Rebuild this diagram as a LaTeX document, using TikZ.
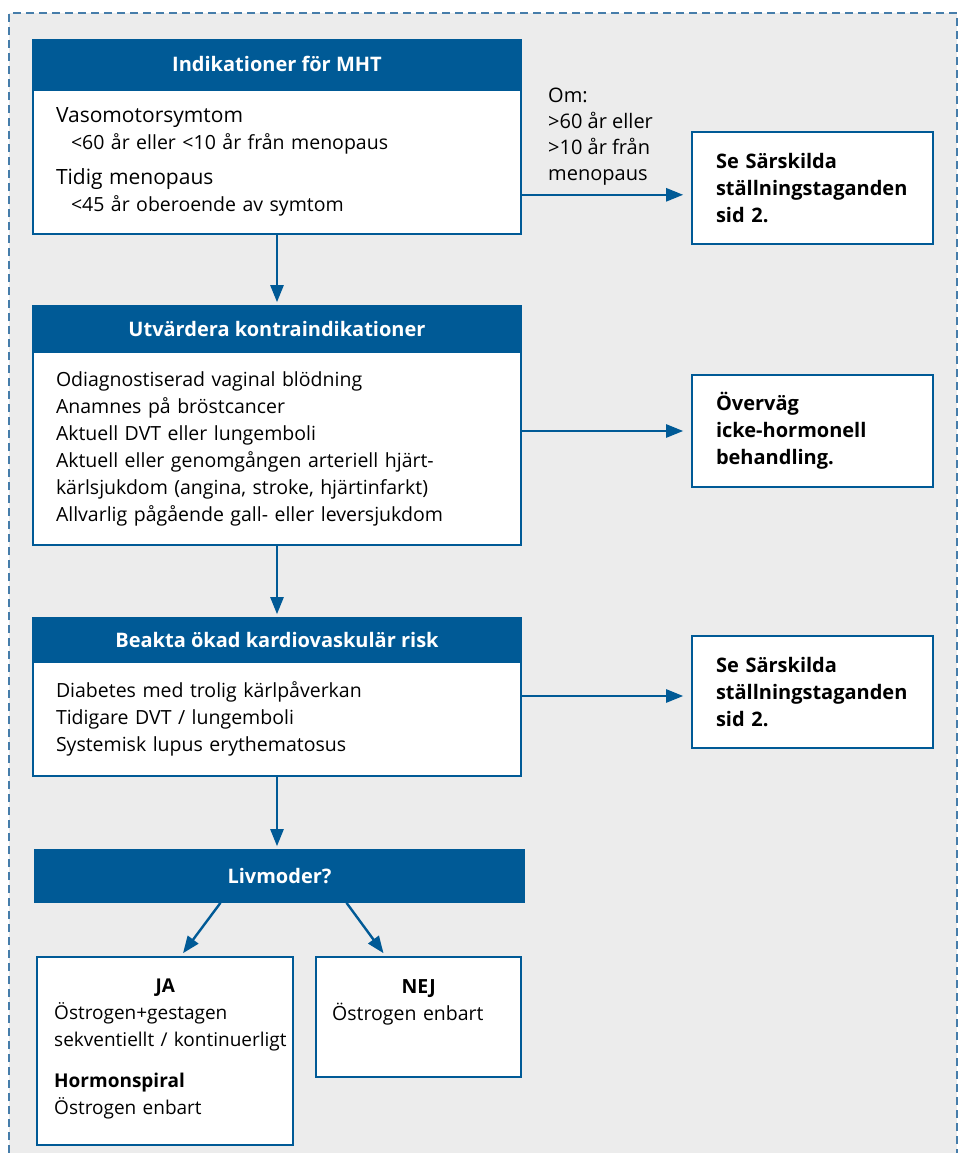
\documentclass[tikz,border=0pt]{standalone}
\usepackage{fontspec}
\setmainfont{Open Sans}
\usetikzlibrary{arrows.meta,calc}
\definecolor{mblue}{RGB}{0,90,150}
\definecolor{mdash}{RGB}{70,125,170}
\definecolor{mbg}{RGB}{236,236,236}
\begin{document}
\begin{tikzpicture}[x=1pt,y=-1pt,
  head/.style={fill=mblue, draw=mblue, line width=1.6pt, text=white,
    font=\fontsize{20}{24}\selectfont\bfseries, minimum width=488pt, inner sep=0pt},
  body/.style={fill=white, draw=mblue, line width=1.6pt, align=left, text width=442pt,
    inner xsep=23pt, inner ysep=0pt, minimum width=488pt, font=\fontsize{19.5}{27}\selectfont},
  side/.style={fill=white, draw=mblue, line width=1.6pt, align=left, text width=193pt,
    inner xsep=24pt, inner ysep=0pt, minimum width=241pt, minimum height=112pt,
    font=\fontsize{20}{27}\selectfont\bfseries},
  plain/.style={fill=white, draw=mblue, line width=1.6pt, inner sep=0pt},
  txt/.style={align=left, inner sep=0pt, font=\fontsize{19.5}{27}\selectfont},
  arr/.style={draw=mblue, line width=2.4pt, -{Triangle[length=17pt,width=13pt]}}
]
\useasboundingbox (0,0) rectangle (963,1153);
\fill[white] (0,0) rectangle (963,1153);
\fill[mbg] (9,13) rectangle (957,1153);
\draw[mdash, line width=1.3pt, dash pattern=on 8pt off 5pt] (9,1153) -- (9,13) -- (957,13) -- (957,1153);

% Box 1
\node[body, minimum height=144pt] (b1) at (277,162) {{\fontsize{21}{27}\selectfont Vasomotorsymtom}\\
\hspace*{15pt}<60 år eller <10 år från menopaus\\[8pt]
{\fontsize{21}{27}\selectfont Tidig menopaus}\\
\hspace*{15pt}<45 år oberoende av symtom};
\node[head, minimum height=48pt] (h1) at (277,64) {Indikationer för MHT};
\node[side] (r1) at (812.5,188) {Se Särskilda\\ställningstaganden\\sid 2.};
\node[txt, anchor=north west, font=\fontsize{20}{26}\selectfont] (om) at (548,88) {Om:\\>60 år eller\\>10 år från\\menopaus};

% Box 2
\node[body, minimum height=193pt] (b2) at (277,448.5) {Odiagnostiserad vaginal blödning\\
Anamnes på bröstcancer\\
Aktuell DVT eller lungemboli\\
Aktuell eller genomgången arteriell hjärt-\\
kärlsjukdom (angina, stroke, hjärtinfarkt)\\
Allvarlig pågående gall- eller leversjukdom};
\node[head, minimum height=46pt] (h2) at (277,329) {Utvärdera kontraindikationer};
\node[side] (r2) at (812.5,431) {Överväg\\icke-hormonell\\behandling.};

% Box 3
\node[body, minimum height=114pt] (b3) at (277,719) {Diabetes med trolig kärlpåverkan\\
Tidigare DVT / lungemboli\\
Systemisk lupus erythematosus};
\node[head, minimum height=44pt] (h3) at (277,640) {Beakta ökad kardiovaskulär risk};
\node[side] (r3) at (812.5,692) {Se Särskilda\\ställningstaganden\\sid 2.};

% Livmoder
\node[head, minimum width=489pt, minimum height=52pt] (liv) at (279.5,876) {Livmoder?};

% JA / NEJ boxes
\node[plain, minimum width=256pt, minimum height=188pt] (ja) at (165,1051) {};
\node[txt, anchor=north west, text width=236pt, font=\fontsize{19}{27}\selectfont] (jat) at (54,979) {\makebox[222pt]{\bfseries JA}\\
Östrogen+gestagen\\
sekventiellt / kontinuerligt\\[14pt]
{\bfseries Hormonspiral}\\
Östrogen enbart};
\node[plain, minimum width=205pt, minimum height=120pt] (nej) at (418.5,1017) {};
\node[txt, anchor=north west, text width=173pt, font=\fontsize{19.5}{27}\selectfont] (nejt) at (332,979) {\makebox[173pt]{\bfseries NEJ}\\
Östrogen enbart};

% Connectors
\coordinate (a1) at ($(b1.south east)+(0,-40)$);
\draw[arr, shorten >=8pt] (a1) -- (a1 -| r1.west);
\draw[arr, shorten >=8pt] (b2.east |- r2.west) -- (r2.west);
\coordinate (a3) at ($(b3.east)+(0,-23)$);
\draw[arr, shorten >=8pt] (a3) -- (a3 -| r3.west);

\draw[arr, shorten >=3pt] (b1.south) -- (h2.north);
\draw[arr, shorten >=3pt] (b2.south) -- (h3.north);
\draw[arr, shorten >=3pt] (b3.south) -- (b3.south |- liv.north);

\draw[arr] ([xshift=-59pt]liv.south) -- ([xshift=18pt,yshift=3pt]ja.north);
\draw[arr] ([xshift=67pt]liv.south) -- ([xshift=-35pt,yshift=3pt]nej.north);
\end{tikzpicture}
\end{document}
